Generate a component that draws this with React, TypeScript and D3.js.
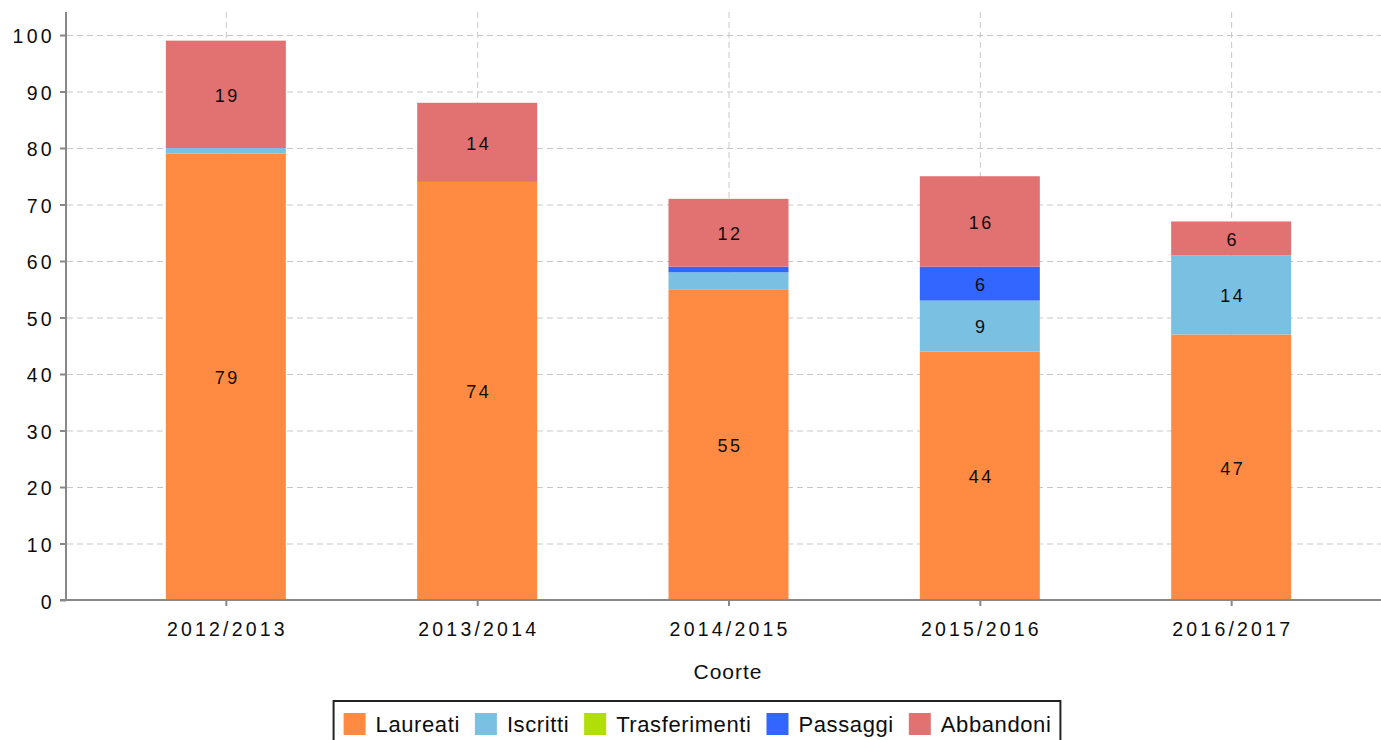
import React, { useEffect, useRef } from "react";
import * as d3 from "d3";

const COORTI = ["2012/2013", "2013/2014", "2014/2015", "2015/2016", "2016/2017"];
const SERIES = ["Laureati", "Iscritti", "Trasferimenti", "Passaggi", "Abbandoni"];
const LAUREATI = [79, 74, 55, 44, 47];
const ISCRITTI = [1, 0, 3, 9, 14];
const TRASFERIMENTI = [0, 0, 0, 0, 0];
const PASSAGGI = [0, 0, 1, 6, 0];
const ABBANDONI = [19, 14, 12, 16, 6];
const Y_TICKS = [0, 10, 20, 30, 40, 50, 60, 70, 80, 90, 100];
const COLORS = ["#ff8b42", "#7ac0e3", "#b0de09", "#3366ff", "#e27272"];
const X_TITLE = "Coorte";

const W = 1381;
const H = 740;
const FONT = "'Liberation Sans', Arial, Helvetica, sans-serif";
const INK = "#0d0d0d";

export default function App() {
  const ref = useRef<SVGSVGElement | null>(null);

  useEffect(() => {
    const svg = d3.select(ref.current);
    svg.selectAll("*").remove();

    const left = 66;
    const top = 12;
    const bottom = 600;

    const rows = COORTI.map((c, i) => ({
      coorte: c,
      Laureati: LAUREATI[i],
      Iscritti: ISCRITTI[i],
      Trasferimenti: TRASFERIMENTI[i],
      Passaggi: PASSAGGI[i],
      Abbandoni: ABBANDONI[i],
    }));

    const x = d3.scalePoint<string>().domain(COORTI).range([left, 1391]).padding(0.636);
    const barW = x.step() * 0.4775;
    const y = d3.scaleLinear().domain([0, 104.07]).range([bottom, top]);

    const g = svg.append("g");

    // horizontal grid
    g.selectAll("line.hg")
      .data(Y_TICKS)
      .join("line")
      .attr("x1", left + 1)
      .attr("x2", W)
      .attr("y1", (d) => y(d) + 0.5)
      .attr("y2", (d) => y(d) + 0.5)
      .attr("stroke", "#c8c8c8")
      .attr("stroke-width", 1)
      .attr("stroke-dasharray", "6,4");

    // vertical grid
    g.selectAll("line.vg")
      .data(COORTI)
      .join("line")
      .attr("x1", (d) => (x(d) as number) + 0.5)
      .attr("x2", (d) => (x(d) as number) + 0.5)
      .attr("y1", top)
      .attr("y2", bottom)
      .attr("stroke", "#c8c8c8")
      .attr("stroke-width", 1)
      .attr("stroke-dasharray", "6,4");

    // stacked bars
    const stack = d3.stack<any>().keys(SERIES);
    const layers = stack(rows);
    layers.forEach((layer, li) => {
      g.append("g")
        .selectAll("rect")
        .data(layer)
        .join("rect")
        .attr("x", (d: any) => (x(d.data.coorte) as number) - barW / 2)
        .attr("width", barW)
        .attr("y", (d: any) => y(d[1]))
        .attr("height", (d: any) => Math.max(0, y(d[0]) - y(d[1])))
        .attr("fill", COLORS[li]);
    });

    // data labels
    layers.forEach((layer) => {
      g.append("g")
        .selectAll("text")
        .data(layer.filter((d: any) => d[1] - d[0] >= 5))
        .join("text")
        .attr("x", (d: any) => (x(d.data.coorte) as number) + 1.5)
        .attr("y", (d: any) => y((d[0] + d[1]) / 2) + 7.5)
        .attr("text-anchor", "middle")
        .attr("font-family", FONT)
        .attr("font-size", 18)
        .attr("letter-spacing", 2.5)
        .attr("fill", INK)
        .text((d: any) => String(d[1] - d[0]));
    });

    // axes
    g.append("line")
      .attr("x1", left)
      .attr("x2", left)
      .attr("y1", top)
      .attr("y2", bottom + 1)
      .attr("stroke", "#888")
      .attr("stroke-width", 2);
    g.append("line")
      .attr("x1", 60)
      .attr("x2", W)
      .attr("y1", bottom)
      .attr("y2", bottom)
      .attr("stroke", "#888")
      .attr("stroke-width", 2);

    // y ticks
    g.selectAll("line.yt")
      .data(Y_TICKS)
      .join("line")
      .attr("x1", 60)
      .attr("x2", left)
      .attr("y1", (d) => y(d) + 0.5)
      .attr("y2", (d) => y(d) + 0.5)
      .attr("stroke", "#888")
      .attr("stroke-width", 2);
    g.selectAll("text.yl")
      .data(Y_TICKS)
      .join("text")
      .attr("x", 55)
      .attr("y", (d) => y(d) + 8.5)
      .attr("text-anchor", "end")
      .attr("font-family", FONT)
      .attr("font-size", 19.5)
      .attr("letter-spacing", 3.3)
      .attr("fill", INK)
      .text((d) => String(d));

    // x ticks
    g.selectAll("line.xt")
      .data(COORTI)
      .join("line")
      .attr("x1", (d) => (x(d) as number) + 0.5)
      .attr("x2", (d) => (x(d) as number) + 0.5)
      .attr("y1", bottom)
      .attr("y2", bottom + 6)
      .attr("stroke", "#888")
      .attr("stroke-width", 2);
    g.selectAll("text.xl")
      .data(COORTI)
      .join("text")
      .attr("x", (d) => (x(d) as number) + 1.6)
      .attr("y", 636)
      .attr("text-anchor", "middle")
      .attr("font-family", FONT)
      .attr("font-size", 19.5)
      .attr("letter-spacing", 3.2)
      .attr("fill", INK)
      .text((d) => d);

    // x title
    g.append("text")
      .attr("x", 728)
      .attr("y", 679)
      .attr("text-anchor", "middle")
      .attr("font-family", FONT)
      .attr("font-size", 21)
      .attr("letter-spacing", 1)
      .attr("fill", INK)
      .text(X_TITLE);

    // legend
    const lg = g.append("g");
    const sq = 22;
    const gapSqText = 10;
    const gapItem = 15;
    const items: { x: number; w: number }[] = [];
    let cx = 0;
    const texts = SERIES.map((s) =>
      lg
        .append("text")
        .attr("font-family", FONT)
        .attr("font-size", 22)
        .attr("letter-spacing", 0.6)
        .attr("fill", INK)
        .attr("y", 732)
        .text(s)
    );
    SERIES.forEach((s, i) => {
      const tw = (texts[i].node() as SVGTextElement).getComputedTextLength();
      items.push({ x: cx, w: tw });
      cx += sq + gapSqText + tw + (i < SERIES.length - 1 ? gapItem : 0);
    });
    const pad = 10;
    const total = cx;
    const boxW = total + pad * 2 - 1;
    const boxX = 697 - boxW / 2;
    lg.insert("rect", ":first-child")
      .attr("x", boxX)
      .attr("y", 701)
      .attr("width", boxW)
      .attr("height", 60)
      .attr("fill", "#fff")
      .attr("stroke", "#222")
      .attr("stroke-width", 2);
    SERIES.forEach((s, i) => {
      const sx = boxX + pad + items[i].x;
      lg.append("rect")
        .attr("x", sx)
        .attr("y", 713)
        .attr("width", sq)
        .attr("height", sq)
        .attr("fill", COLORS[i]);
      texts[i].attr("x", sx + sq + gapSqText);
    });
  }, []);

  return (
    <svg
      ref={ref}
      width={W}
      height={H}
      style={{ position: "absolute", left: 0, top: 0, display: "block", background: "#fff" }}
    />
  );
}
